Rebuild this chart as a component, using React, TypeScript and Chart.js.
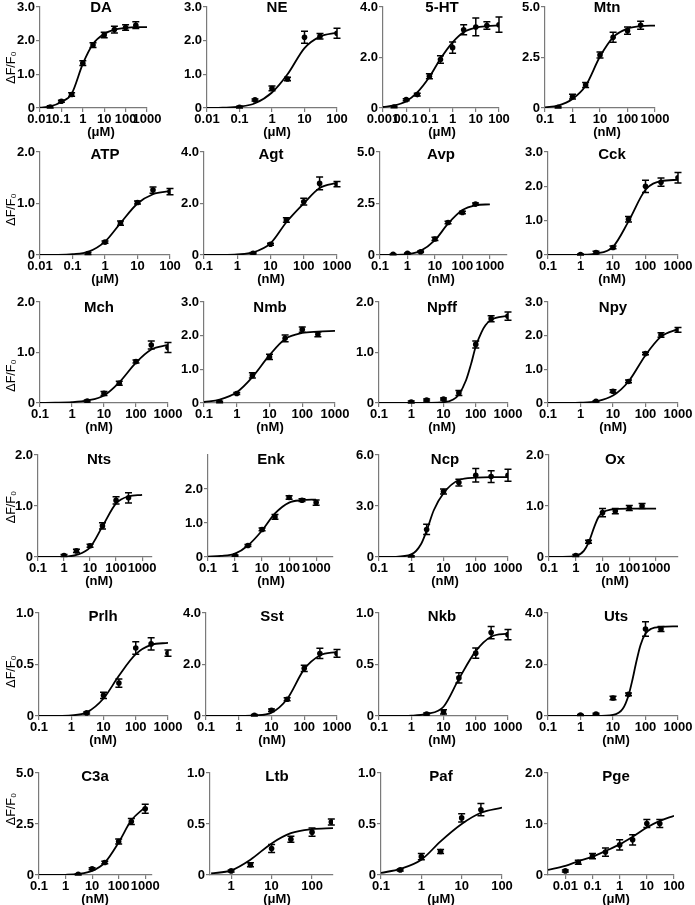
import React, { useEffect, useRef } from "react";
import { Chart, registerables } from "chart.js";

Chart.register(...registerables);

const FONT = '"Liberation Sans", Arial, Helvetica, sans-serif';
Chart.defaults.font.family = FONT;
const AXIS_COLOR = "#7a7a7a";
const INK = "#000000";

// ---------- shared tick values / labels ----------
const TICKS_A = [0.1, 1, 10, 100, 1000];
const LABELS_A = ["0.1", "1", "10", "100", "1000"];
const TICKS_DA = [0.01, 0.1, 1, 10, 100, 1000];
const LABELS_DA = ["0.01", "0.1", "1", "10", "100", "1000"];
const TICKS_NE = [0.01, 0.1, 1, 10, 100];
const LABELS_NE = ["0.01", "0.1", "1", "10", "100"];
const TICKS_5HT = [0.001, 0.01, 0.1, 1, 10, 100];
const LABELS_5HT = ["0.001", "00.1", "0.1", "1", "10", "100"];
const TICKS_LTB = [1, 10, 100];
const LABELS_LTB = ["1", "10", "100"];
const TICKS_PAF = [0.1, 1, 10, 100];
const LABELS_PAF = ["0.1", "1", "10", "100"];

// ---------- DA ----------
const DA_dose = [0.03, 0.1, 0.3, 1, 3, 10, 30, 100, 300];
const DA_resp = [0.03, 0.2, 0.4, 1.33, 1.87, 2.17, 2.33, 2.39, 2.46];
const DA_err = [0.04, 0.03, 0.05, 0.07, 0.07, 0.08, 0.1, 0.08, 0.1];
const DA_fitX = [0.01, 0.03, 0.1, 0.3, 1, 3, 10, 30, 100, 300, 1000];
const DA_fitY = [0.01, 0.05, 0.18, 0.42, 1.31, 1.9, 2.2, 2.33, 2.38, 2.4, 2.4];
const DA_xRange = [0.01, 1000];
const DA_yTicks = [0, 1, 2, 3];

// ---------- NE ----------
const NE_dose = [0.1, 0.3, 1, 3, 10, 30, 100];
const NE_resp = [0.02, 0.24, 0.58, 0.86, 2.1, 2.13, 2.22];
const NE_err = [0.03, 0.03, 0.07, 0.05, 0.18, 0.08, 0.15];
const NE_fitX = [0.01, 0.03, 0.1, 0.3, 1, 3, 10, 30, 100];
const NE_fitY = [0, 0.01, 0.04, 0.14, 0.46, 1.0, 1.78, 2.12, 2.24];
const NE_xRange = [0.01, 100];
const NE_yTicks = [0, 1, 2, 3];

// ---------- 5-HT ----------
const HT_dose = [0.003, 0.01, 0.03, 0.1, 0.3, 1, 3, 10, 30, 100];
const HT_resp = [0.04, 0.33, 0.53, 1.26, 1.92, 2.39, 3.1, 3.21, 3.27, 3.3];
const HT_err = [0.03, 0.04, 0.05, 0.1, 0.15, 0.22, 0.2, 0.35, 0.15, 0.3];
const HT_fitX = [0.001, 0.003, 0.01, 0.03, 0.1, 0.3, 1, 3, 10, 30, 100];
const HT_fitY = [0.04, 0.1, 0.27, 0.62, 1.23, 1.95, 2.6, 3.0, 3.18, 3.24, 3.27];
const HT_xRange = [0.001, 100];
const HT_yTicks = [0, 2, 4];

// ---------- Mtn ----------
const MTN_dose = [0.3, 1, 3, 10, 30, 100, 300];
const MTN_resp = [0.03, 0.56, 1.14, 2.62, 3.5, 3.83, 4.1];
const MTN_err = [0.05, 0.12, 0.12, 0.15, 0.25, 0.18, 0.2];
const MTN_fitX = [0.1, 0.3, 1, 3, 10, 30, 100, 300, 1000];
const MTN_fitY = [0.03, 0.12, 0.45, 1.1, 2.55, 3.5, 3.93, 4.05, 4.08];
const MTN_xRange = [0.1, 1000];
const MTN_yTicks = [0, 2.5, 5];

// ---------- ATP ----------
const ATP_dose = [0.3, 1, 3, 10, 30, 100];
const ATP_resp = [0.03, 0.25, 0.62, 1.02, 1.26, 1.23];
const ATP_err = [0.02, 0.02, 0.04, 0.03, 0.06, 0.06];
const ATP_fitX = [0.01, 0.03, 0.1, 0.3, 1, 3, 10, 30, 100];
const ATP_fitY = [0, 0.002, 0.015, 0.06, 0.26, 0.62, 1.0, 1.18, 1.24];
const ATP_xRange = [0.01, 100];
const ATP_yTicks = [0, 1, 2];

// ---------- Agt ----------
const AGT_dose = [3, 10, 30, 100, 300, 1000];
const AGT_resp = [0.07, 0.42, 1.36, 2.07, 2.78, 2.75];
const AGT_err = [0.03, 0.04, 0.09, 0.13, 0.25, 0.1];
const AGT_fitX = [0.1, 0.3, 1, 3, 10, 30, 100, 300, 1000];
const AGT_fitY = [0, 0.002, 0.02, 0.1, 0.45, 1.27, 2.0, 2.6, 2.8];
const AGT_xRange = [0.1, 1000];
const AGT_yTicks = [0, 2, 4];

// ---------- Avp ----------
const AVP_dose = [0.3, 1, 3, 10, 30, 100, 300];
const AVP_resp = [0.03, 0.08, 0.16, 0.78, 1.58, 2.06, 2.47];
const AVP_err = [0.02, 0.02, 0.04, 0.08, 0.06, 0.06, 0.06];
const AVP_fitX = [0.1, 0.3, 1, 3, 10, 30, 100, 300, 1000];
const AVP_fitY = [0, 0.005, 0.04, 0.2, 0.72, 1.52, 2.18, 2.41, 2.46];
const AVP_xRange = [0.1, 4200];
const AVP_yTicks = [0, 2.5, 5];

// ---------- Cck ----------
const CCK_dose = [1, 3, 10, 30, 100, 300, 1000];
const CCK_resp = [0.01, 0.07, 0.22, 1.04, 2.0, 2.12, 2.25];
const CCK_err = [0.02, 0.04, 0.04, 0.08, 0.18, 0.12, 0.15];
const CCK_fitX = [0.1, 0.3, 1, 3, 10, 30, 100, 300, 1000];
const CCK_fitY = [0, 0, 0.005, 0.04, 0.24, 0.98, 1.9, 2.15, 2.19];
const CCK_xRange = [0.1, 1000];
const CCK_yTicks = [0, 1, 2, 3];

// ---------- Mch ----------
const MCH_dose = [3, 10, 30, 100, 300, 1000];
const MCH_resp = [0.04, 0.19, 0.39, 0.82, 1.15, 1.1];
const MCH_err = [0.02, 0.04, 0.04, 0.03, 0.08, 0.1];
const MCH_fitX = [0.1, 0.3, 1, 3, 10, 30, 100, 300, 1000];
const MCH_fitY = [0.003, 0.005, 0.015, 0.05, 0.15, 0.41, 0.8, 1.06, 1.15];
const MCH_xRange = [0.1, 1000];
const MCH_yTicks = [0, 1, 2];

// ---------- Nmb ----------
const NMB_dose = [0.3, 1, 3, 10, 30, 100, 300];
const NMB_resp = [0.03, 0.28, 0.82, 1.37, 1.92, 2.18, 2.04];
const NMB_err = [0.02, 0.03, 0.08, 0.08, 0.1, 0.08, 0.07];
const NMB_fitX = [0.1, 0.3, 1, 3, 10, 30, 100, 300, 1000];
const NMB_fitY = [0.03, 0.1, 0.32, 0.77, 1.42, 1.9, 2.08, 2.12, 2.14];
const NMB_xRange = [0.1, 1000];
const NMB_yTicks = [0, 1, 2, 3];

// ---------- Npff ----------
const NPFF_dose = [1, 3, 10, 30, 100, 300, 1000];
const NPFF_resp = [0.02, 0.06, 0.08, 0.2, 1.16, 1.67, 1.72];
const NPFF_err = [0.02, 0.02, 0.02, 0.05, 0.07, 0.06, 0.08];
const NPFF_fitX = [0.1, 1, 3, 10, 20, 30, 50, 70, 100, 150, 200, 300, 1000];
const NPFF_fitY = [0, 0.001, 0.003, 0.015, 0.07, 0.17, 0.45, 0.75, 1.12, 1.4, 1.54, 1.65, 1.73];
const NPFF_xRange = [0.1, 1000];
const NPFF_yTicks = [0, 1, 2];

// ---------- Npy ----------
const NPY_dose = [3, 10, 30, 100, 300, 1000];
const NPY_resp = [0.05, 0.35, 0.64, 1.47, 2.02, 2.17];
const NPY_err = [0.02, 0.04, 0.04, 0.04, 0.07, 0.07];
const NPY_fitX = [0.1, 0.3, 1, 3, 10, 30, 100, 300, 1000];
const NPY_fitY = [0, 0.002, 0.01, 0.05, 0.22, 0.64, 1.42, 1.97, 2.2];
const NPY_xRange = [0.1, 1000];
const NPY_yTicks = [0, 1, 2, 3];

// ---------- Nts ----------
const NTS_dose = [1, 3, 10, 30, 100, 300];
const NTS_resp = [0.03, 0.12, 0.22, 0.61, 1.11, 1.16];
const NTS_err = [0.02, 0.03, 0.03, 0.06, 0.07, 0.1];
const NTS_fitX = [0.1, 0.3, 1, 3, 10, 30, 100, 300, 1000];
const NTS_fitY = [0, 0.001, 0.005, 0.04, 0.19, 0.6, 1.05, 1.19, 1.22];
const NTS_xRange = [0.1, 2400];
const NTS_yTicks = [0, 1, 2];

// ---------- Enk ----------
const ENK_dose = [1, 3, 10, 30, 100, 300, 1000];
const ENK_resp = [0.04, 0.34, 0.81, 1.18, 1.75, 1.67, 1.6];
const ENK_err = [0.02, 0.03, 0.04, 0.07, 0.05, 0.04, 0.08];
const ENK_fitX = [0.1, 0.3, 1, 3, 10, 30, 100, 300, 1000];
const ENK_fitY = [0.01, 0.03, 0.1, 0.34, 0.78, 1.28, 1.6, 1.67, 1.69];
const ENK_xRange = [0.1, 4200];
const ENK_yTicks = [0, 1, 2];

// ---------- Ncp ----------
const NCP_dose = [1, 3, 10, 30, 100, 300, 1000];
const NCP_resp = [0.03, 1.62, 3.85, 4.38, 4.81, 4.73, 4.81];
const NCP_err = [0.05, 0.3, 0.15, 0.2, 0.4, 0.35, 0.35];
const NCP_fitX = [0.1, 0.3, 1, 2, 3, 5, 10, 30, 100, 300, 1000];
const NCP_fitY = [0, 0.01, 0.15, 0.75, 1.55, 2.75, 3.75, 4.53, 4.67, 4.7, 4.7];
const NCP_xRange = [0.1, 1000];
const NCP_yTicks = [0, 3, 6];

// ---------- Ox ----------
const OX_dose = [1, 3, 10, 30, 100, 300];
const OX_resp = [0.03, 0.3, 0.87, 0.9, 0.96, 1.0];
const OX_err = [0.02, 0.03, 0.08, 0.05, 0.05, 0.05];
const OX_fitX = [0.1, 0.3, 1, 2, 3, 5, 7, 10, 20, 100, 1000];
const OX_fitY = [0, 0.001, 0.02, 0.12, 0.28, 0.6, 0.78, 0.87, 0.93, 0.95, 0.95];
const OX_xRange = [0.1, 6600];
const OX_yTicks = [0, 1, 2];

// ---------- Prlh ----------
const PRLH_dose = [3, 10, 30, 100, 300, 1000];
const PRLH_resp = [0.03, 0.2, 0.32, 0.66, 0.7, 0.61];
const PRLH_err = [0.01, 0.03, 0.04, 0.06, 0.06, 0.03];
const PRLH_fitX = [0.1, 0.3, 1, 3, 10, 30, 100, 300, 1000];
const PRLH_fitY = [0, 0.001, 0.006, 0.035, 0.17, 0.39, 0.6, 0.69, 0.71];
const PRLH_xRange = [0.1, 1000];
const PRLH_yTicks = [0, 0.5, 1];

// ---------- Sst ----------
const SST_dose = [3, 10, 30, 100, 300, 1000];
const SST_resp = [0.03, 0.22, 0.65, 1.85, 2.43, 2.43];
const SST_err = [0.03, 0.05, 0.06, 0.12, 0.2, 0.15];
const SST_fitX = [0.1, 0.3, 1, 3, 10, 30, 100, 300, 1000];
const SST_fitY = [0, 0, 0.002, 0.02, 0.13, 0.66, 1.82, 2.35, 2.49];
const SST_xRange = [0.1, 1000];
const SST_yTicks = [0, 2, 4];

// ---------- Nkb ----------
const NKB_dose = [3, 10, 30, 100, 300, 1000];
const NKB_resp = [0.02, 0.04, 0.37, 0.61, 0.81, 0.79];
const NKB_err = [0.01, 0.02, 0.05, 0.05, 0.06, 0.05];
const NKB_fitX = [0.1, 0.3, 1, 3, 10, 30, 100, 300, 1000];
const NKB_fitY = [0, 0, 0.003, 0.02, 0.09, 0.36, 0.63, 0.77, 0.8];
const NKB_xRange = [0.1, 1000];
const NKB_yTicks = [0, 0.5, 1];

// ---------- Uts ----------
const UTS_dose = [1, 3, 10, 30, 100, 300];
const UTS_resp = [0.04, 0.08, 0.7, 0.84, 3.38, 3.38];
const UTS_err = [0.02, 0.03, 0.07, 0.05, 0.28, 0.1];
const UTS_fitX = [0.1, 1, 3, 10, 20, 30, 40, 50, 70, 100, 150, 300, 1000];
const UTS_fitY = [0, 0, 0.001, 0.04, 0.28, 0.8, 1.43, 2.0, 2.75, 3.2, 3.39, 3.46, 3.48];
const UTS_xRange = [0.1, 1000];
const UTS_yTicks = [0, 2, 4];

// ---------- C3a ----------
const C3A_dose = [3, 10, 30, 100, 300, 1000];
const C3A_resp = [0.03, 0.31, 0.61, 1.64, 2.62, 3.25];
const C3A_err = [0.03, 0.05, 0.06, 0.12, 0.15, 0.22];
const C3A_fitX = [0.1, 0.3, 1, 3, 10, 30, 100, 300, 1000];
const C3A_fitY = [0, 0.002, 0.01, 0.05, 0.2, 0.61, 1.6, 2.68, 3.33];
const C3A_xRange = [0.1, 1800];
const C3A_yTicks = [0, 2.5, 5];

// ---------- Ltb ----------
const LTB_dose = [1, 3, 10, 30, 100, 300];
const LTB_resp = [0.04, 0.1, 0.26, 0.35, 0.42, 0.52];
const LTB_err = [0.01, 0.02, 0.04, 0.03, 0.04, 0.03];
const LTB_fitX = [0.32, 1, 3, 10, 30, 100, 330];
const LTB_fitY = [0.015, 0.045, 0.15, 0.31, 0.41, 0.45, 0.46];
const LTB_xRange = [0.32, 330];
const LTB_yTicks = [0, 0.5, 1];

// ---------- Paf ----------
const PAF_dose = [0.3, 1, 3, 10, 30];
const PAF_resp = [0.05, 0.18, 0.23, 0.56, 0.64];
const PAF_err = [0.01, 0.03, 0.02, 0.04, 0.06];
const PAF_fitX = [0.1, 0.3, 1, 3, 10, 30, 100];
const PAF_fitY = [0.02, 0.06, 0.15, 0.33, 0.5, 0.61, 0.66];
const PAF_xRange = [0.1, 100];
const PAF_yTicks = [0, 0.5, 1];

// ---------- Pge ----------
const PGE_dose = [0.01, 0.03, 0.1, 0.3, 1, 3, 10, 30];
const PGE_resp = [0.08, 0.25, 0.37, 0.45, 0.59, 0.69, 1.01, 1.01];
const PGE_err = [0.02, 0.04, 0.05, 0.08, 0.1, 0.1, 0.08, 0.08];
const PGE_fitX = [0.0023, 0.01, 0.03, 0.1, 0.3, 1, 3, 10, 30, 100];
const PGE_fitY = [0.1, 0.18, 0.27, 0.36, 0.47, 0.6, 0.75, 0.93, 1.06, 1.16];
const PGE_xRange = [0.0023, 100];
const PGE_yTicks = [0, 1, 2];

const UM = "(\u03bcM)";
const NM = "(nM)";

type PanelDef = {
  name: string; unit: string;
  dose: number[]; resp: number[]; err: number[];
  fitX: number[]; fitY: number[];
  xRange: number[]; xTicks: number[]; xLabels: string[];
  yMax: number; yTicks: number[];
};

const P = (name: string, unit: string, dose: number[], resp: number[], err: number[],
  fitX: number[], fitY: number[], xRange: number[], xTicks: number[], xLabels: string[],
  yMax: number, yTicks: number[]): PanelDef =>
  ({ name, unit, dose, resp, err, fitX, fitY, xRange, xTicks, xLabels, yMax, yTicks });

const PANELS: PanelDef[][] = [
  [
    P("DA", UM, DA_dose, DA_resp, DA_err, DA_fitX, DA_fitY, DA_xRange, TICKS_DA, LABELS_DA, 3, DA_yTicks),
    P("NE", UM, NE_dose, NE_resp, NE_err, NE_fitX, NE_fitY, NE_xRange, TICKS_NE, LABELS_NE, 3, NE_yTicks),
    P("5-HT", UM, HT_dose, HT_resp, HT_err, HT_fitX, HT_fitY, HT_xRange, TICKS_5HT, LABELS_5HT, 4, HT_yTicks),
    P("Mtn", NM, MTN_dose, MTN_resp, MTN_err, MTN_fitX, MTN_fitY, MTN_xRange, TICKS_A, LABELS_A, 5, MTN_yTicks),
  ],
  [
    P("ATP", UM, ATP_dose, ATP_resp, ATP_err, ATP_fitX, ATP_fitY, ATP_xRange, TICKS_NE, LABELS_NE, 2, ATP_yTicks),
    P("Agt", NM, AGT_dose, AGT_resp, AGT_err, AGT_fitX, AGT_fitY, AGT_xRange, TICKS_A, LABELS_A, 4, AGT_yTicks),
    P("Avp", NM, AVP_dose, AVP_resp, AVP_err, AVP_fitX, AVP_fitY, AVP_xRange, TICKS_A, LABELS_A, 5, AVP_yTicks),
    P("Cck", NM, CCK_dose, CCK_resp, CCK_err, CCK_fitX, CCK_fitY, CCK_xRange, TICKS_A, LABELS_A, 3, CCK_yTicks),
  ],
  [
    P("Mch", NM, MCH_dose, MCH_resp, MCH_err, MCH_fitX, MCH_fitY, MCH_xRange, TICKS_A, LABELS_A, 2, MCH_yTicks),
    P("Nmb", NM, NMB_dose, NMB_resp, NMB_err, NMB_fitX, NMB_fitY, NMB_xRange, TICKS_A, LABELS_A, 3, NMB_yTicks),
    P("Npff", NM, NPFF_dose, NPFF_resp, NPFF_err, NPFF_fitX, NPFF_fitY, NPFF_xRange, TICKS_A, LABELS_A, 2, NPFF_yTicks),
    P("Npy", NM, NPY_dose, NPY_resp, NPY_err, NPY_fitX, NPY_fitY, NPY_xRange, TICKS_A, LABELS_A, 3, NPY_yTicks),
  ],
  [
    P("Nts", NM, NTS_dose, NTS_resp, NTS_err, NTS_fitX, NTS_fitY, NTS_xRange, TICKS_A, LABELS_A, 2, NTS_yTicks),
    P("Enk", NM, ENK_dose, ENK_resp, ENK_err, ENK_fitX, ENK_fitY, ENK_xRange, TICKS_A, LABELS_A, 3, ENK_yTicks),
    P("Ncp", NM, NCP_dose, NCP_resp, NCP_err, NCP_fitX, NCP_fitY, NCP_xRange, TICKS_A, LABELS_A, 6, NCP_yTicks),
    P("Ox", NM, OX_dose, OX_resp, OX_err, OX_fitX, OX_fitY, OX_xRange, TICKS_A, LABELS_A, 2, OX_yTicks),
  ],
  [
    P("Prlh", NM, PRLH_dose, PRLH_resp, PRLH_err, PRLH_fitX, PRLH_fitY, PRLH_xRange, TICKS_A, LABELS_A, 1, PRLH_yTicks),
    P("Sst", NM, SST_dose, SST_resp, SST_err, SST_fitX, SST_fitY, SST_xRange, TICKS_A, LABELS_A, 4, SST_yTicks),
    P("Nkb", NM, NKB_dose, NKB_resp, NKB_err, NKB_fitX, NKB_fitY, NKB_xRange, TICKS_A, LABELS_A, 1, NKB_yTicks),
    P("Uts", NM, UTS_dose, UTS_resp, UTS_err, UTS_fitX, UTS_fitY, UTS_xRange, TICKS_A, LABELS_A, 4, UTS_yTicks),
  ],
  [
    P("C3a", NM, C3A_dose, C3A_resp, C3A_err, C3A_fitX, C3A_fitY, C3A_xRange, TICKS_A, LABELS_A, 5, C3A_yTicks),
    P("Ltb", UM, LTB_dose, LTB_resp, LTB_err, LTB_fitX, LTB_fitY, LTB_xRange, TICKS_LTB, LABELS_LTB, 1, LTB_yTicks),
    P("Paf", UM, PAF_dose, PAF_resp, PAF_err, PAF_fitX, PAF_fitY, PAF_xRange, TICKS_PAF, LABELS_PAF, 1, PAF_yTicks),
    P("Pge", UM, PGE_dose, PGE_resp, PGE_err, PGE_fitX, PGE_fitY, PGE_xRange, TICKS_NE, LABELS_NE, 2, PGE_yTicks),
  ],
];

// ---------- layout (page pixels) ----------
const ROW_TOP = [7, 152, 302, 455, 613, 773];
const ROW_BOTTOM = [108, 255, 403, 557, 716, 875];
const ROW_YLABEL_DY = [10, 6, 23, 1, 7, -15];
const ROW_TITLE_DY = [1, 3, 6, 5, 4, 4];
const AXIS_L = [[40, 207, 383, 545], [40, 204, 380, 548], [40, 204, 379, 548], [38, 208, 379, 549], [39, 206, 379, 548], [39, 210, 381, 548]];
const AXIS_R = [[147, 337, 499, 655], [170, 337, 507, 678], [168, 335, 508, 678], [152, 333, 508, 678], [168, 337, 508, 678], [152, 333, 502, 674]];
const TITLE_X = [[101, 277, 442, 607], [105, 271, 441, 612], [99, 270, 442, 613], [99, 271, 445, 615], [103, 272, 442, 616], [95, 277, 441, 616]];
const PAD_TOP = 14;
const PAD_RIGHT = 26;
const BOTTOM_H = 38;
const TICK_FONT = { size: 13, weight: "bold" as const, family: FONT };

function Panel({ def, row, col }: { def: PanelDef; row: number; col: number }) {
  const ref = useRef<HTMLCanvasElement>(null);
  const axisL = AXIS_L[row][col];
  const axisR = AXIS_R[row][col];
  const top = ROW_TOP[row];
  const bottom = ROW_BOTTOM[row];
  const leftW = col === 0 ? axisL : 45;
  const canvasLeft = axisL - leftW;
  const canvasTop = top - PAD_TOP;
  const w = leftW + (axisR - axisL) + PAD_RIGHT;
  const h = PAD_TOP + (bottom - top) + BOTTOM_H;

  useEffect(() => {
    if (!ref.current) return;
    const extras = {
      id: "extras",
      afterDatasetsDraw(chart: any) {
        const { ctx, chartArea } = chart;
        const xs = chart.scales.x;
        const ys = chart.scales.y;
        ctx.save();
        ctx.strokeStyle = INK;
        ctx.lineWidth = 1.5;
        def.dose.forEach((d, i) => {
          const px = xs.getPixelForValue(d);
          const yt = ys.getPixelForValue(def.resp[i] + def.err[i]);
          const yb = ys.getPixelForValue(Math.max(0, def.resp[i] - def.err[i]));
          ctx.beginPath();
          ctx.moveTo(px, yt); ctx.lineTo(px, yb);
          ctx.moveTo(px - 3.5, yt); ctx.lineTo(px + 3.5, yt);
          ctx.moveTo(px - 3.5, yb); ctx.lineTo(px + 3.5, yb);
          ctx.stroke();
        });
        ctx.fillStyle = INK;
        ctx.textAlign = "center";
        ctx.textBaseline = "middle";
        const tx = TITLE_X[row][col] - canvasLeft;
        ctx.font = `bold 15px ${FONT}`;
        ctx.fillText(def.name, tx, chartArea.top + ROW_TITLE_DY[row]);
        ctx.font = `bold 13px ${FONT}`;
        ctx.fillText(def.unit, tx, chartArea.bottom + 24);
        if (col === 0) {
          ctx.save();
          ctx.translate(12 - canvasLeft, (chartArea.top + chartArea.bottom) / 2 + ROW_YLABEL_DY[row]);
          ctx.rotate(-Math.PI / 2);
          ctx.font = `12.5px ${FONT}`;
          ctx.fillText("\u0394F/F\u2080", 0, 0);
          ctx.restore();
        }
        ctx.restore();
      },
    };

    const chart = new Chart(ref.current, {
      type: "line",
      data: {
        datasets: [
          {
            data: def.fitX.map((x, i) => ({ x, y: def.fitY[i] })),
            borderColor: INK,
            borderWidth: 1.8,
            pointRadius: 0,
            fill: false,
            cubicInterpolationMode: "monotone",
          },
          {
            data: def.dose.map((x, i) => ({ x, y: def.resp[i] })),
            showLine: false,
            pointRadius: 2.8,
            pointBackgroundColor: INK,
            pointBorderColor: INK,
            pointBorderWidth: 0,
          },
        ],
      },
      options: {
        animation: false,
        responsive: false,
        events: [],
        layout: { autoPadding: false, padding: { top: PAD_TOP, right: PAD_RIGHT, left: 0, bottom: 0 } },
        plugins: { legend: { display: false }, tooltip: { enabled: false }, title: { display: false } },
        scales: {
          x: {
            type: "logarithmic",
            min: def.xRange[0],
            max: def.xRange[1],
            afterBuildTicks: (s: any) => { s.ticks = def.xTicks.map((v) => ({ value: v })); },
            afterFit: (s: any) => { s.height = BOTTOM_H; },
            ticks: {
              callback: (_v: any, i: number) => def.xLabels[i],
              color: INK,
              font: TICK_FONT,
              maxRotation: 0,
              minRotation: 0,
              autoSkip: false,
              padding: 0,
            },
            grid: { display: true, drawOnChartArea: false, drawTicks: true, tickLength: 4, color: AXIS_COLOR, lineWidth: 1.2 },
            border: { display: true, color: AXIS_COLOR, width: 1.2 },
          },
          y: {
            type: "linear",
            min: 0,
            max: def.yMax,
            afterBuildTicks: (s: any) => { s.ticks = def.yTicks.map((v) => ({ value: v })); },
            afterFit: (s: any) => { s.width = leftW; },
            ticks: {
              callback: (v: any) => (Number(v) === 0 ? "0" : Number(v).toFixed(1)),
              color: INK,
              font: TICK_FONT,
              padding: 1,
            },
            grid: { display: true, drawOnChartArea: false, drawTicks: true, tickLength: 4, color: AXIS_COLOR, lineWidth: 1.2 },
            border: { display: true, color: AXIS_COLOR, width: 1.2 },
          },
        },
      },
      plugins: [extras],
    } as any);
    return () => chart.destroy();
  }, []);

  return (
    <canvas
      ref={ref}
      width={w}
      height={h}
      style={{ position: "absolute", left: canvasLeft, top: canvasTop, width: w, height: h }}
    />
  );
}

export default function App() {
  return (
    <div style={{ position: "absolute", left: 0, top: 0, width: 695, height: 905, background: "#ffffff", overflow: "hidden" }}>
      {PANELS.map((rowDefs, r) =>
        rowDefs.map((def, c) => <Panel key={`${r}-${c}`} def={def} row={r} col={c} />)
      )}
    </div>
  );
}
